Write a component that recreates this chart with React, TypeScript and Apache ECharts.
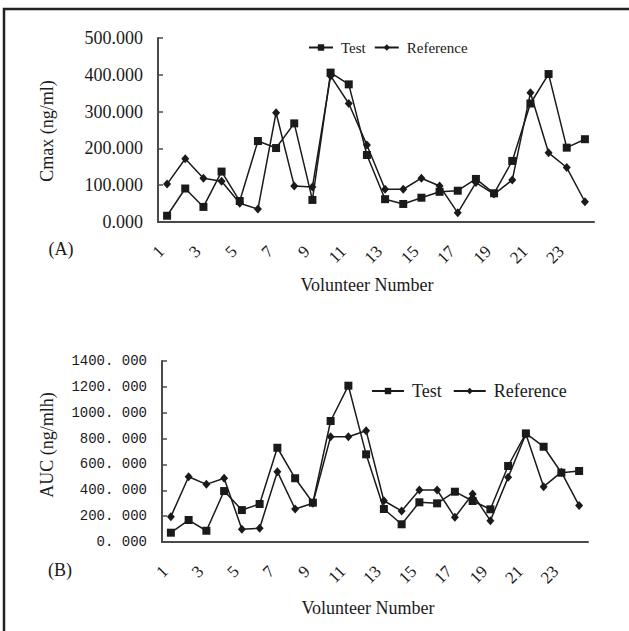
import React, { useEffect, useRef } from 'react';
import * as echarts from 'echarts';

const volunteers = ['1','2','3','4','5','6','7','8','9','10','11','12','13','14','15','16','17','18','19','20','21','22','23','24'];
const cmaxTest = [17, 91, 41, 137, 57, 220, 201, 268, 60, 406, 374, 182, 62, 49, 66, 82, 85, 117, 78, 166, 322, 402, 202, 225];
const cmaxRef = [103, 172, 119, 111, 51, 35, 297, 98, 95, 397, 322, 209, 89, 89, 119, 98, 25, 107, 76, 114, 351, 188, 148, 55];
const aucTest = [72, 170, 87, 394, 247, 294, 729, 493, 304, 936, 1209, 678, 255, 137, 307, 299, 389, 317, 253, 588, 840, 737, 536, 549];
const aucRef = [196, 505, 446, 493, 98, 106, 544, 255, 300, 814, 814, 861, 319, 240, 402, 402, 191, 371, 165, 500, 835, 428, 540, 282];
const seriesNames = ['Test', 'Reference'];

export default function App() {
  const ref = useRef<HTMLDivElement>(null);
  useEffect(() => {
    const chart = echarts.init(ref.current as HTMLDivElement, null, { renderer: 'svg' });
    const serif = 'Liberation Serif';
    const ink = '#1a1a1a';
    const axisColor = '#4a4a4a';

    const xAxis = (gridIndex: number) => ({
      type: 'category',
      gridIndex,
      data: volunteers,
      boundaryGap: true,
      axisLine: { lineStyle: { color: axisColor, width: 2 } },
      axisTick: { inside: true, length: 5, interval: 0, lineStyle: { color: axisColor, width: 1.5 } },
      axisLabel: { interval: 1, rotate: 45, margin: 21, padding: [0, 8, 0, 0], fontFamily: serif, fontSize: 17, color: ink },
      splitLine: { show: false },
    });

    const lineSeries = (name: string, data: number[], idx: number, symbol: string, size: any) => ({
      name,
      type: 'line',
      xAxisIndex: idx,
      yAxisIndex: idx,
      data,
      symbol,
      symbolSize: size,
      lineStyle: { color: ink, width: 1.5 },
      itemStyle: { color: ink },
    });

    chart.setOption({
      animation: false,
      backgroundColor: '#ffffff',
      grid: [
        { left: 158, top: 38, width: 436, height: 184 },
        { left: 162, top: 361, width: 426, height: 181 },
      ],
      legend: [
        {
          data: seriesNames,
          left: 303,
          top: 35,
          itemWidth: 24,
          itemHeight: 8,
          itemGap: 8,
          textStyle: { fontFamily: serif, fontSize: 15, color: ink, padding: [0, 0, 0, 3] },
        },
        {
          data: seriesNames,
          left: 366,
          top: 377,
          itemWidth: 32,
          itemHeight: 8,
          itemGap: 11,
          textStyle: { fontFamily: serif, fontSize: 18, color: ink, padding: [0, 0, 0, 3] },
        },
      ],
      xAxis: [xAxis(0), xAxis(1)],
      yAxis: [
        {
          type: 'value',
          gridIndex: 0,
          min: 0,
          max: 500,
          interval: 100,
          axisLine: { show: true, lineStyle: { color: axisColor, width: 2 } },
          axisTick: { show: true, inside: true, length: 5, lineStyle: { color: axisColor, width: 1.5 } },
          axisLabel: { margin: 15, fontFamily: serif, fontSize: 18, color: ink, formatter: (v: number) => v.toFixed(3) },
          splitLine: { show: false },
        },
        {
          type: 'value',
          gridIndex: 1,
          min: 0,
          max: 1400,
          interval: 200,
          axisLine: { show: true, lineStyle: { color: axisColor, width: 2 } },
          axisTick: { show: true, inside: true, length: 5, lineStyle: { color: axisColor, width: 1.5 } },
          axisLabel: { margin: 15, fontFamily: 'Liberation Mono', fontSize: 14, color: ink, formatter: (v: number) => v.toFixed(3).replace('.', '. ') },
          splitLine: { show: false },
        },
      ],
      series: [
        lineSeries('Test', cmaxTest, 0, 'rect', 8),
        lineSeries('Reference', cmaxRef, 0, 'diamond', [8, 9]),
        lineSeries('Test', aucTest, 1, 'rect', 8),
        lineSeries('Reference', aucRef, 1, 'diamond', [8, 9]),
      ],
      graphic: [
        { type: 'rect', shape: { x: 4, y: 9, width: 700, height: 700 }, style: { fill: 'none', stroke: '#222', lineWidth: 2.5 }, silent: true },
        { type: 'text', x: 47, y: 131, rotation: Math.PI / 2, style: { text: 'Cmax (ng/ml)', fontFamily: serif, fontSize: 18, fill: ink, textAlign: 'center', textVerticalAlign: 'middle' } },
        { type: 'text', x: 47, y: 445, rotation: Math.PI / 2, style: { text: 'AUC (ng/mlh)', fontFamily: serif, fontSize: 18, fill: ink, textAlign: 'center', textVerticalAlign: 'middle' } },
        { type: 'text', x: 61, y: 249, style: { text: '(A)', fontFamily: serif, fontSize: 18, fill: ink, textAlign: 'center', textVerticalAlign: 'middle' } },
        { type: 'text', x: 60, y: 570, style: { text: '(B)', fontFamily: serif, fontSize: 18, fill: ink, textAlign: 'center', textVerticalAlign: 'middle' } },
        { type: 'text', x: 367, y: 285, style: { text: 'Volunteer Number', fontFamily: serif, fontSize: 18, fill: ink, textAlign: 'center', textVerticalAlign: 'middle' } },
        { type: 'text', x: 368, y: 608, style: { text: 'Volunteer Number', fontFamily: serif, fontSize: 18, fill: ink, textAlign: 'center', textVerticalAlign: 'middle' } },
      ],
    });
    return () => chart.dispose();
  }, []);
  return (
    <div
      ref={ref}
      style={{ position: 'fixed', left: 0, top: 0, width: 629, height: 631, background: '#fff' }}
    />
  );
}
